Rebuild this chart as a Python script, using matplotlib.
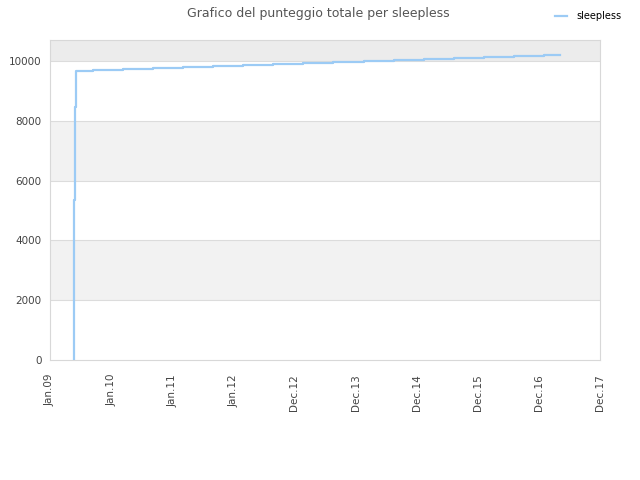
import matplotlib
matplotlib.use("Agg")
import matplotlib.pyplot as plt

# anni trascorsi da gen. 2009 e punteggio totale
anni = [0.393, 0.394, 0.396, 0.405, 0.410, 0.421, 0.426,
        0.705, 1.197, 1.689, 2.180, 2.672, 3.164, 3.656, 4.148,
        4.639, 5.131, 5.623, 6.115, 6.607, 7.098, 7.590, 8.082, 8.344]
punteggio = [0, 3900, 5350, 5400, 8470, 9630, 9676,
             9709, 9742, 9776, 9809, 9843, 9876, 9910, 9943,
             9977, 10010, 10044, 10077, 10111, 10144, 10178, 10212, 10212]

etichette_x = ["Jan.09", "Jan.10", "Jan.11", "Jan.12", "Dec.12",
               "Dec.13", "Dec.14", "Dec.15", "Dec.16", "Dec.17"]
tick_y = [0, 2000, 4000, 6000, 8000, 10000]

fig = plt.figure(figsize=(6.4, 4.8), dpi=100)
ax = fig.add_axes([50 / 640, 120 / 480, 550 / 640, 320 / 480])

# fasce di sfondo alternate
for lo, hi in [(2000, 4000), (6000, 8000)]:
    ax.axhspan(lo, hi, color="#f2f2f2", zorder=0, lw=0)
ax.axhspan(10000, 10700, color="#ececec", zorder=0, lw=0)
for y in tick_y[1:]:
    ax.axhline(y, color="#dcdcdc", lw=0.8, zorder=1)

ax.step(anni, punteggio, where="post", color="#9ccbf5", lw=1.6,
        label="sleepless", zorder=3)

ax.set_xlim(0, 9)
ax.set_ylim(0, 10700)
ax.set_xticks(range(len(etichette_x)))
ax.set_xticklabels(etichette_x, rotation=90)
ax.set_yticks(tick_y)
ax.tick_params(length=0, labelsize=7.5, colors="#444444")
ax.tick_params(axis="x", pad=10)
ax.tick_params(axis="y", pad=6)
for s in ax.spines.values():
    s.set_color("#d8d8d8")

fig.suptitle("Grafico del punteggio totale per sleepless", x=0.497, y=0.985,
             fontsize=9, color="#555555")
fig.legend(loc="upper right", bbox_to_anchor=(0.985, 0.995), frameon=False,
           fontsize=7, handlelength=1.2, handletextpad=1.0)

plt.savefig("out.png", dpi=100)
plt.close()
